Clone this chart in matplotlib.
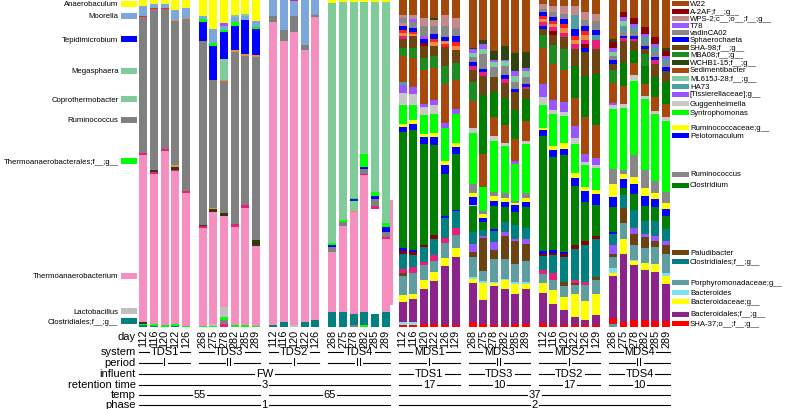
#!/usr/bin/env python3
"""Stacked relative-abundance bars: thermophilic (TDS) and mesophilic (MDS) digesters."""

import matplotlib
matplotlib.use('Agg')
import matplotlib.pyplot as plt
from matplotlib.patches import Rectangle
from matplotlib.lines import Line2D
from matplotlib import transforms

plt.rcParams['font.family'] = ['Liberation Sans', 'DejaVu Sans']

W, H = 785, 410

# ---------------------------------------------------------------- data
GROUPS = ['TDS1', 'TDS3', 'TDS2', 'TDS4', 'MDS1', 'MDS3', 'MDS2', 'MDS4']

DAYS_P1 = [112, 116, 120, 122, 126]
DAYS_P2 = [268, 275, 278, 282, 285, 289]
DAYS_M1 = [112, 116, 120, 122, 126, 129]
GROUP_DAYS = [DAYS_P1, DAYS_P2, DAYS_P1, DAYS_P2, DAYS_M1, DAYS_P2, DAYS_M1, DAYS_P2]

# each bar: (taxon code, percent), listed from top of bar to bottom
TDS1_BARS = [
    [('An', 1.9), ('Mo', 2.9), ('rd', 0.4), ('Ru', 41.3), ('mg', 0.8), ('Tm', 50.9), ('ol', 0.4), ('Tl', 0.4), ('Cl', 0.7)],
    [('An', 1.1), ('Mo', 1.3), ('rd', 0.2), ('Ru', 49.4), ('ol', 0.6), ('mg', 0.5), ('Tm', 45.8), ('Tl', 0.5), ('Cl', 0.5)],
    [('An', 1.2), ('Mo', 1.1), ('rd', 0.3), ('Ru', 42.8), ('mg', 0.6), ('Tm', 53.3), ('Tl', 0.7)],
    [('An', 3.1), ('Mo', 3.0), ('or', 0.4), ('Ru', 44.0), ('or', 0.5), ('ol', 0.9), ('mg', 0.4), ('Tm', 46.7), ('Tl', 0.7), ('Cl', 0.3)],
    [('An', 2.4), ('Mo', 3.2), ('or', 0.3), ('Ru', 52.4), ('mg', 0.7), ('Tm', 40.4), ('Tl', 0.5)],
]
TDS3_BARS = [
    [('An', 4.8), ('Mo', 1.0), ('Tl', 0.8), ('Te', 5.9), ('Ru', 56.2), ('ol', 0.4), ('mg', 0.4), ('Tm', 29.9), ('Tl', 0.5)],
    [('An', 8.9), ('Mo', 4.3), ('Tl', 0.8), ('Te', 10.5), ('Ru', 39.0), ('or', 0.4), ('ol', 1.0), ('Tm', 34.1), ('La', 0.5), ('Tl', 0.5)],
    [('An', 7.0), ('vi', 0.8), ('Mo', 1.5), ('Tl', 0.5), ('Te', 8.1), ('Me', 6.4), ('or', 0.3), ('Ru', 40.4), ('ol', 1.0),
     ('Tm', 27.7), ('La', 3.1), ('Tl', 0.7), ('Ru', 1.3), ('mg', 1.0)],
    [('An', 4.6), ('Co', 0.7), ('Mo', 1.5), ('Tl', 1.0), ('Te', 7.4), ('or', 0.7), ('Ru', 52.5), ('mg', 0.7), ('Tm', 30.0), ('Tl', 0.7)],
    [('An', 4.3), ('Co', 0.5), ('Mo', 1.2), ('Te', 10.5), ('or', 0.7), ('Ru', 45.3), ('mg', 0.9), ('Tm', 35.8), ('Tl', 0.7)],
    [('An', 6.3), ('Mo', 1.8), ('Tl', 0.7), ('Te', 8.1), ('or', 0.5), ('Ru', 55.9), ('ol', 1.6), ('Tm', 24.6), ('Tl', 0.3)],
]
TDS2_BARS = [
    [('Mo', 4.8), ('Ru', 1.8), ('Tm', 92.7), ('Cl', 0.7)],
    [('Mo', 9.1), ('Ru', 3.3), ('Tm', 86.2), ('Cl', 1.5)],
    [('mg', 0.3), ('Mo', 4.7), ('Ru', 4.7), ('Tm', 89.6), ('La', 0.7)],
    [('Mo', 13.6), ('Ru', 1.6), ('Tm', 83.0), ('Cl', 1.7)],
    [('Mo', 4.6), ('Ru', 0.7), ('Tm', 92.4), ('Cl', 2.3)],
]
TDS4_BARS = [
    [('An', 0.9), ('Co', 73.4), ('Tl', 0.6), ('Te', 0.6), ('Ru', 1.3), ('Tm', 18.3), ('Cl', 4.8)],
    [('An', 0.7), ('Co', 66.5), ('Tl', 0.5), ('Ru', 1.2), ('Tm', 26.5), ('Cl', 4.6)],
    [('An', 0.5), ('Co', 60.0), ('Tl', 0.5), ('Te', 0.5), ('Me', 3.0), ('or', 0.4), ('Tm', 31.1), ('Cl', 3.4), ('Ru', 0.7)],
    [('An', 0.5), ('Co', 46.2), ('Tl', 3.9), ('Te', 0.8), ('Ru', 1.3), ('mg', 0.5), ('Tm', 41.5), ('Cl', 3.9), ('Tl', 0.7)],
    # the Thermoanaerobacterium block of day 285 is drawn displaced in the original
    [('An', 0.7), ('Co', 58.0), ('Tl', 1.2), ('Te', 0.8), ('Ru', 2.2), ('mg', 1.0), ('Tm_off', 31.9), ('Cl', 4.1)],
    [('An', 0.7), ('Co', 67.4), ('Tl', 1.3), ('Te', 1.3), ('Ru', 1.7), ('mg', 0.5), ('Tm', 22.4), ('Cl', 4.6)],
]
MDS1_BARS = [
    [('W', 4.6), ('P', 1.0), ('V', 1.4), ('P', 1.0), ('S', 1.0), ('rd', 1.0), ('or', 1.0), ('mg', 1.0), ('H', 2.6), ('M', 2.4),
     ('D', 7.9), ('h', 0.8), ('X', 2.5), ('G', 3.6), ('Y', 5.8), ('R', 1.0), ('B', 1.5), ('C', 35.4), ('B', 0.7), ('A', 1.0),
     ('Ct', 4.6), ('mg', 1.2), ('Pa', 1.0), ('Po', 5.7), ('Bc', 2.0), ('Bl', 6.3), ('Bd', 0.8), ('Sr', 0.7)],
    [('W', 4.6), ('P', 1.0), ('T', 1.0), ('V', 1.9), ('S', 1.0), ('rd', 0.6), ('or', 0.8), ('H', 3.6), ('M', 3.1), ('D', 8.7),
     ('X', 2.0), ('G', 3.4), ('Y', 4.5), ('R', 1.0), ('B', 1.8), ('C', 36.2), ('B', 0.5), ('A', 1.0), ('Ct', 3.6), ('mg', 2.0),
     ('Po', 6.1), ('Bc', 1.5), ('Bl', 7.1), ('Bd', 0.7), ('Sr', 0.8)],
    [('W', 5.3), ('P', 2.5), ('V', 3.1), ('T', 0.8), ('S', 1.2), ('A', 1.0), ('H', 3.6), ('M', 3.6), ('D', 10.2), ('X', 1.0),
     ('G', 2.5), ('Y', 5.8), ('R', 0.8), ('B', 2.2), ('C', 30.3), ('A', 0.8), ('Ct', 4.3), ('mg', 1.0), ('Po', 4.6), ('Bc', 2.5),
     ('Bl', 10.7), ('Sr', 1.0)],
    [('W', 5.3), ('K', 0.7), ('P', 1.8), ('V', 2.5), ('S', 1.5), ('rd', 1.0), ('or', 1.0), ('H', 3.1), ('M', 3.6), ('D', 9.7),
     ('X', 1.5), ('G', 2.7), ('Y', 5.7), ('R', 1.2), ('B', 2.5), ('C', 27.0), ('A', 1.2), ('Ct', 4.9), ('mg', 2.0), ('Po', 3.1),
     ('Bc', 2.9), ('Bl', 12.9), ('Sr', 1.0)],
    [('W', 4.6), ('P', 3.3), ('V', 3.1), ('S', 1.4), ('or', 0.9), ('rd', 0.9), ('H', 5.6), ('M', 5.4), ('D', 11.9), ('X', 1.3),
     ('Y', 10.2), ('R', 1.2), ('B', 2.7), ('C', 12.5), ('B', 0.5), ('Ct', 6.1), ('mg', 1.5), ('Po', 4.4), ('Bc', 2.5),
     ('Bl', 17.8), ('Sr', 0.7)],
    [('W', 5.6), ('P', 2.8), ('V', 2.5), ('S', 1.7), ('rd', 1.2), ('or', 1.3), ('H', 4.1), ('M', 5.1), ('D', 8.7), ('X', 1.5),
     ('Y', 8.7), ('R', 1.2), ('B', 2.3), ('C', 16.8), ('B', 0.5), ('Ct', 5.1), ('mg', 2.2), ('Po', 3.7), ('Bc', 2.7),
     ('Bl', 20.7), ('Sr', 0.7)],
]
MDS3_BARS = [
    [('W', 14.5), ('K', 0.5), ('T', 1.0), ('L', 1.2), ('V', 1.8), ('S', 1.1), ('mg', 1.1), ('H', 3.9), ('M', 5.6), ('D', 8.1),
     ('G', 1.8), ('Y', 15.5), ('U', 2.5), ('R', 1.5), ('B', 2.2), ('G', 0.5), ('C', 7.9), ('Ct', 3.6), ('X', 2.5), ('Pa', 1.5),
     ('Po', 6.1), ('Bd', 0.5), ('Bc', 1.2), ('Bl', 12.0), ('Sr', 1.5)],
    [('W', 12.1), ('K', 1.3), ('T', 1.5), ('L', 1.5), ('V', 4.6), ('S', 0.8), ('mg', 1.2), ('H', 5.9), ('C', 17.8), ('D', 9.9),
     ('Y', 7.4), ('U', 1.0), ('R', 1.2), ('B', 1.0), ('C', 2.5), ('Ct', 1.7), ('X', 0.8), ('Pa', 10.0), ('Po', 3.1),
     ('Bd', 0.4), ('Bc', 5.2), ('Bl', 7.3), ('Sr', 1.0)],
    [('W', 15.5), ('K', 2.7), ('T', 0.8), ('L', 1.5), ('V', 3.1), ('H', 4.6), ('C', 7.6), ('D', 5.8), ('G', 1.3), ('Y', 15.6),
     ('U', 1.4), ('R', 1.3), ('B', 1.5), ('C', 7.1), ('B', 0.5), ('Ct', 3.4), ('X', 2.4), ('Pa', 2.9), ('Po', 6.9),
     ('Bd', 0.4), ('Bc', 1.0), ('Bl', 11.8), ('Sr', 0.7)],
    [('W', 14.0), ('K', 4.1), ('T', 0.5), ('L', 1.5), ('V', 2.5), ('S', 1.2), ('mg', 1.3), ('H', 4.6), ('C', 8.1), ('D', 5.6),
     ('G', 1.0), ('Y', 14.0), ('U', 1.7), ('R', 1.0), ('B', 1.5), ('C', 4.6), ('Ct', 3.1), ('X', 1.2), ('Pa', 6.9), ('Po', 6.1),
     ('Bd', 0.5), ('Bc', 2.5), ('Bl', 11.0), ('Sr', 0.7)],
    [('W', 16.2), ('K', 5.4), ('T', 1.7), ('L', 1.6), ('V', 2.2), ('S', 1.0), ('H', 5.6), ('C', 8.7), ('D', 6.6), ('X', 1.0),
     ('Y', 11.2), ('U', 0.7), ('R', 0.8), ('B', 2.0), ('C', 4.1), ('Ct', 4.1), ('X', 0.8), ('Pa', 6.8), ('Po', 5.6),
     ('Bd', 0.5), ('Bc', 3.1), ('Bl', 9.2), ('Sr', 1.0)],
    [('W', 16.0), ('K', 4.6), ('T', 1.0), ('L', 2.0), ('V', 2.0), ('S', 0.8), ('mg', 0.7), ('H', 3.1), ('C', 6.6), ('D', 6.1),
     ('G', 1.0), ('Y', 14.8), ('U', 1.8), ('R', 1.0), ('B', 1.7), ('C', 6.4), ('Ct', 3.3), ('X', 1.5), ('Pa', 5.1), ('Po', 6.6),
     ('Bd', 0.5), ('Bc', 1.5), ('Bl', 10.7), ('Sr', 1.0)],
]
MDS2_BARS = [
    [('W', 1.2), ('P', 1.5), ('V', 1.0), ('S', 1.0), ('rd', 1.0), ('or', 1.0), ('mg', 1.0), ('S', 1.0), ('H', 1.7), ('M', 3.9),
     ('D', 10.9), ('X', 4.1), ('G', 2.3), ('Y', 6.8), ('R', 0.7), ('B', 1.8), ('C', 34.6), ('B', 0.8), ('A', 0.7), ('Ct', 4.1),
     ('mg', 1.3), ('Po', 2.7), ('Bc', 3.1), ('Bl', 8.9), ('Sr', 1.3)],
    [('W', 1.7), ('P', 2.0), ('V', 1.5), ('S', 1.0), ('rd', 1.0), ('or', 1.0), ('mg', 1.0), ('A', 1.3), ('H', 3.1), ('M', 5.6),
     ('D', 10.9), ('X', 2.9), ('G', 1.2), ('Y', 9.5), ('R', 1.3), ('B', 2.2), ('C', 27.8), ('B', 0.7), ('A', 0.7), ('Ct', 5.4),
     ('mg', 2.0), ('Po', 3.1), ('Bc', 4.1), ('Bl', 6.4), ('Sr', 0.7)],
    [('W', 1.9), ('P', 2.3), ('V', 1.7), ('S', 1.4), ('rd', 1.3), ('or', 1.3), ('mg', 1.4), ('H', 3.6), ('M', 6.4), ('D', 9.5),
     ('X', 3.1), ('G', 1.2), ('Y', 8.4), ('R', 1.6), ('B', 2.0), ('C', 29.3), ('B', 0.7), ('A', 0.8), ('Ct', 7.6), ('Pa', 1.2),
     ('Po', 3.4), ('Bc', 3.8), ('Bl', 4.7), ('Sr', 0.7)],
    [('W', 1.7), ('P', 2.9), ('h', 4.3), ('S', 2.0), ('rd', 1.3), ('or', 1.3), ('mg', 1.3), ('H', 5.3), ('C', 9.7), ('D', 8.7),
     ('X', 3.6), ('G', 1.7), ('Y', 8.8), ('R', 1.7), ('B', 2.5), ('C', 17.8), ('A', 1.3), ('Ct', 9.4), ('mg', 0.8), ('Pa', 0.8),
     ('Po', 2.7), ('Bc', 7.1), ('Bl', 2.3), ('Sr', 0.7)],
    [('W', 3.8), ('P', 2.2), ('V', 1.8), ('S', 1.5), ('rd', 1.5), ('or', 1.5), ('mg', 1.2), ('A', 1.0), ('S', 1.2), ('H', 7.3),
     ('C', 12.7), ('D', 11.2), ('X', 2.5), ('G', 1.0), ('Y', 6.6), ('R', 1.3), ('B', 3.3), ('C', 11.7), ('A', 1.3), ('Ct', 11.4),
     ('mg', 0.8), ('Po', 4.8), ('Bc', 5.8), ('Bl', 1.6), ('Sr', 0.7)],
    [('W', 4.3), ('P', 2.0), ('V', 2.7), ('S', 1.8), ('h', 1.5), ('mg', 2.5), ('H', 7.9), ('C', 15.3), ('D', 10.2), ('X', 2.2),
     ('G', 0.8), ('Y', 6.8), ('R', 1.3), ('B', 3.1), ('C', 9.6), ('A', 1.0), ('Ct', 11.5), ('Pa', 1.0), ('Po', 4.1),
     ('Bc', 6.4), ('Bl', 3.1), ('Sr', 0.7)],
]
MDS4_BARS = [
    [('W', 11.9), ('K', 0.8), ('A', 2.0), ('T', 1.0), ('L', 1.2), ('V', 1.4), ('S', 1.2), ('H', 1.7), ('M', 3.9), ('D', 6.1),
     ('X', 0.8), ('G', 1.0), ('Y', 18.3), ('U', 4.5), ('R', 4.1), ('B', 3.1), ('C', 7.4), ('B', 0.7), ('Ct', 3.4), ('X', 2.7),
     ('Pa', 1.0), ('Po', 3.4), ('Bd', 1.4), ('Bc', 0.8), ('Bl', 13.0), ('Sr', 1.7), ('Po', 1.0)],
    [('W', 3.6), ('A', 1.7), ('T', 1.0), ('L', 1.5), ('h', 1.6), ('V', 1.5), ('S', 0.8), ('mg', 0.8), ('H', 6.6), ('C', 7.1),
     ('D', 5.6), ('G', 1.0), ('Y', 19.0), ('U', 1.0), ('R', 1.8), ('B', 2.5), ('C', 2.2), ('Ct', 4.1), ('Pa', 4.6), ('Po', 4.6),
     ('Bc', 4.6), ('Bl', 20.9), ('Sr', 1.5)],
    [('W', 5.3), ('A', 2.0), ('T', 0.8), ('h', 1.4), ('V', 1.4), ('S', 0.8), ('mg', 0.6), ('H', 3.1), ('C', 3.6), ('D', 3.6),
     ('G', 1.8), ('Y', 22.6), ('U', 6.6), ('R', 2.0), ('B', 3.1), ('C', 4.8), ('Ct', 5.6), ('X', 1.8), ('Pa', 3.3), ('Po', 4.6),
     ('Bd', 0.3), ('Bc', 1.2), ('Bl', 16.5), ('Sr', 2.3)],
    [('W', 8.4), ('A', 2.0), ('T', 0.8), ('h', 1.5), ('V', 1.3), ('S', 1.0), ('H', 1.5), ('M', 3.6), ('C', 5.6), ('D', 3.6),
     ('G', 1.0), ('Y', 21.6), ('U', 5.7), ('R', 2.2), ('B', 3.1), ('C', 4.6), ('Ct', 4.1), ('X', 1.0), ('Pa', 3.1), ('Po', 4.6),
     ('Bc', 2.2), ('Bl', 15.3), ('Sr', 2.3)],
    [('W', 11.4), ('A', 2.0), ('T', 1.0), ('h', 1.5), ('V', 1.5), ('S', 1.0), ('mg', 1.1), ('H', 4.1), ('C', 6.1), ('D', 4.1),
     ('G', 1.0), ('Y', 20.4), ('U', 3.6), ('R', 2.0), ('B', 2.5), ('C', 4.1), ('Ct', 4.6), ('X', 1.5), ('Pa', 2.0), ('Po', 5.1),
     ('Bc', 2.5), ('Bl', 14.8), ('Sr', 2.0)],
    [('W', 14.8), ('K', 0.7), ('A', 1.5), ('T', 1.0), ('h', 1.2), ('V', 1.2), ('S', 1.2), ('H', 3.6), ('C', 6.6), ('D', 3.8),
     ('G', 1.3), ('Y', 21.9), ('U', 3.3), ('R', 1.8), ('B', 2.2), ('C', 3.9), ('Ct', 3.6), ('X', 1.3), ('Pa', 2.8), ('Po', 5.6),
     ('Bd', 1.0), ('Bc', 2.5), ('Bl', 11.2), ('Sr', 2.0)],
]
GROUP_BARS = [TDS1_BARS, TDS3_BARS, TDS2_BARS, TDS4_BARS, MDS1_BARS, MDS3_BARS, MDS2_BARS, MDS4_BARS]

# metadata rows under the bars: (label, first group, last group)
ROW_LABELS = ['system', 'period', 'influent', 'retention time', 'temp', 'phase']
ROW_SPANS = [
    [('TDS1', 0, 0), ('TDS3', 1, 1), ('TDS2', 2, 2), ('TDS4', 3, 3),
     ('MDS1', 4, 4), ('MDS3', 5, 5), ('MDS2', 6, 6), ('MDS4', 7, 7)],
    [('I', 0, 0), ('II', 1, 1), ('I', 2, 2), ('II', 3, 3), ('I', 4, 4), ('II', 5, 5), ('I', 6, 6), ('II', 7, 7)],
    [('FW', 0, 3), ('TDS1', 4, 4), ('TDS3', 5, 5), ('TDS2', 6, 6), ('TDS4', 7, 7)],
    [('3', 0, 3), ('17', 4, 4), ('10', 5, 5), ('17', 6, 6), ('10', 7, 7)],
    [('55', 0, 1), ('65', 2, 3), ('37', 4, 7)],
    [('1', 0, 3), ('2', 4, 7)],
]

LEFT_LEGEND = ['Anaerobaculum', 'Moorella', 'Tepidimicrobium', 'Megasphaera', 'Coprothermobacter',
               'Ruminococcus', 'Thermoanaerobacterales;f__;g__', 'Thermoanaerobacterium',
               'Lactobacillus', 'Clostridiales;f__;g__']
LEFT_CODES = ['An', 'Mo', 'Te', 'Me', 'Co', 'Ru', 'Tl', 'Tm', 'La', 'Cl']

RIGHT_LEGEND = ['W22', 'A-2AF;f__;g__', 'WPS-2;c__;o__;f__;g__', 'T78', 'vadinCA02', 'Sphaerochaeta',
                'SHA-98;f__;g__', 'MBA08;f__;g__', 'WCHB1-15;f__;g__', 'Sedimentibacter',
                'ML615J-28;f__;g__', 'HA73', '[Tissierellaceae];g__', 'Guggenheimella', 'Syntrophomonas',
                'Ruminococcaceae;g__', 'Pelotomaculum', 'Ruminococcus', 'Clostridium', 'Paludibacter',
                'Clostridiales;f__;g__', 'Porphyromonadaceae;g__', 'Bacteroides', 'Bacteroidaceae;g__',
                'Bacteroidales;f__;g__', 'SHA-37;o__;f__;g__']
RIGHT_CODES = ['W', 'A', 'P', 'T', 'V', 'S', 'H', 'M', 'K', 'D', 'L', 'h', 'X', 'G', 'Y', 'R', 'B', 'U', 'C',
               'Pa', 'Ct', 'Po', 'Bd', 'Bc', 'Bl', 'Sr']

# ---------------------------------------------------------------- style
COLORS = {
    # thermophilic taxa
    'An': '#FFFF00', 'Mo': '#7BA7DC', 'Te': '#0000FF', 'Me': '#7FCB9A', 'Co': '#80CC99',
    'Ru': '#808080', 'Tl': '#00FF00', 'Tm': '#F48FBF', 'Tm_off': '#F48FBF', 'La': '#C0C0C0', 'Cl': '#008080',
    # mesophilic taxa
    'W': '#A3480B', 'A': '#8B0000', 'P': '#C48A8A', 'T': '#9B59FF', 'V': '#888888', 'S': '#0000FF',
    'H': '#6E4512', 'M': '#1E8B1E', 'K': '#2D4510', 'D': '#A8480C', 'L': '#80CCA0', 'h': '#4EA0A0',
    'X': '#9955FF', 'G': '#C8C8C8', 'Y': '#00FF00', 'R': '#FFFF00', 'B': '#0000FF', 'U': '#888888',
    'C': '#007F00', 'Pa': '#6B4210', 'Ct': '#008080', 'Po': '#5F9EA0', 'Bd': '#80E0F0', 'Bc': '#FFFF00',
    'Bl': '#8B238B', 'Sr': '#FF0000',
    # unlabelled minor taxa
    'mg': '#E8207A', 'or': '#F08A40', 'rd': '#FF2020', 'ol': '#303A10', 'vi': '#9955FF',
}

GROUP_GAP = 0.6
BAR_W = 0.75
OFF_DX, OFF_W, OFF_DY = 1.53, 0.38, 2.75   # displaced pink block of TDS4 day 285

LEFT_LEG_Y = [4.7, 16.7, 40.3, 71.7, 100, 120.7, 162.3, 276.7, 312.3, 322]
RIGHT_LEG_Y = [4, 12, 19.3, 26, 33.3, 40.7, 48.3, 55.7, 63.3, 71, 79.3, 87.3, 95, 104.3, 113.3,
               128.3, 136.7, 175, 186, 253.3, 262.7, 283.3, 293.3, 302.7, 315, 324.3]
ROW_Y = [352.5, 363, 374.3, 385, 395.5, 405]
ROW_FS = 8.0


def fx(px):
    return px / W


def fy(py):
    return 1 - py / H


# ---------------------------------------------------------------- figure
fig = plt.figure(figsize=(W / 100, H / 100), dpi=100)
ax = fig.add_axes([fx(130), fy(328.3), fx(671) - fx(130), 327.3 / H])

positions = []
group_pos = []
start = 0.0
for bars in GROUP_BARS:
    xs = [start + i for i in range(len(bars))]
    positions += xs
    group_pos.append(xs)
    start += len(bars) + GROUP_GAP

for xs, bars in zip(group_pos, GROUP_BARS):
    for x, segs in zip(xs, bars):
        total = sum(v for _, v in segs)
        top = 100.0
        for code, v in segs:
            v = v * 100.0 / total
            bottom = top - v
            if code == 'Tm_off':
                ax.bar(x + OFF_DX, v, bottom=bottom + OFF_DY, width=OFF_W,
                       color=COLORS[code], linewidth=0)
            else:
                ax.bar(x, v, bottom=bottom, width=BAR_W, color=COLORS[code], linewidth=0)
            top = bottom

ax.set_xlim(positions[0] - 1.252, positions[-1] + 0.47)
ax.set_ylim(0, 100)
for s in ax.spines.values():
    s.set_visible(False)
ax.set_yticks([])
ax.set_xticks(positions)
ax.set_xticklabels([str(d) for days in GROUP_DAYS for d in days], rotation=90,
                   fontsize=7.8, va='top', ha='center')
ax.tick_params(axis='x', length=0, pad=1.2)

# left legend (thermophilic taxa)
for name, code, y in zip(LEFT_LEGEND, LEFT_CODES, LEFT_LEG_Y):
    fig.add_artist(Rectangle((fx(120.7), fy(y + 3)), fx(16), 6 / H,
                             transform=fig.transFigure, color=COLORS[code], lw=0))
    fig.text(fx(118.5), fy(y), name, ha='right', va='center', fontsize=5.6)

# right legend (mesophilic taxa)
for name, code, y in zip(RIGHT_LEGEND, RIGHT_CODES, RIGHT_LEG_Y):
    fig.add_artist(Rectangle((fx(672), fy(y + 2.5)), fx(16.5), 5 / H,
                             transform=fig.transFigure, color=COLORS[code], lw=0))
    fig.text(fx(690), fy(y), name, ha='left', va='center', fontsize=5.6)

# metadata rows
fig.text(fx(136), fy(337), 'day', ha='right', va='center', fontsize=ROW_FS)
blend = transforms.blended_transform_factory(ax.transData, fig.transFigure)
renderer = fig.canvas.get_renderer()
for label, spans, y in zip(ROW_LABELS, ROW_SPANS, ROW_Y):
    fig.text(fx(136), fy(y), label, ha='right', va='center', fontsize=ROW_FS)
    for text, g0, g1 in spans:
        x0 = group_pos[g0][0] - BAR_W / 2
        x1 = group_pos[g1][-1] + BAR_W / 2
        t = ax.text((x0 + x1) / 2, fy(y), text, transform=blend, ha='center', va='center',
                    fontsize=ROW_FS, clip_on=False)
        bb = t.get_window_extent(renderer)
        p0 = ax.transData.transform((x0, 0))[0]
        p1 = ax.transData.transform((x1, 0))[0]
        yl = fy(y) - 0.5 / H
        for a, b in [(p0, bb.x0 - 1.5), (bb.x1 + 1.5, p1)]:
            fig.add_artist(Line2D([a / W, b / W], [yl, yl], transform=fig.transFigure,
                                  color='black', lw=0.8))

fig.savefig('out.png', dpi=100)
